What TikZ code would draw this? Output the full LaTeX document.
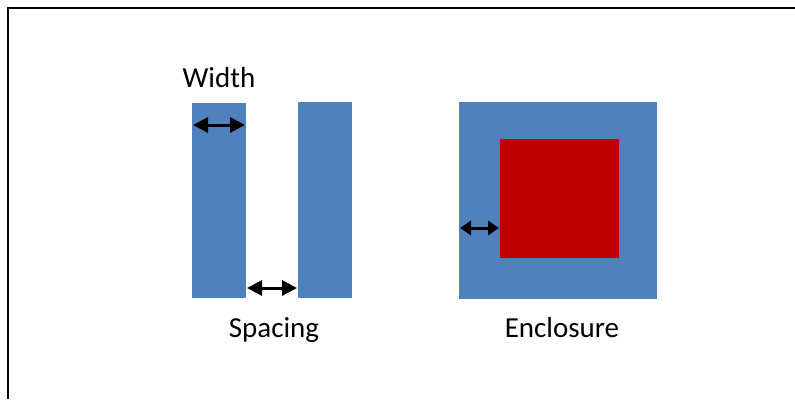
\documentclass[tikz,border=0pt]{standalone}
\usepackage{fontspec}
\setmainfont{Carlito}
\usetikzlibrary{arrows.meta}
\definecolor{barblue}{HTML}{4F81BD}
\definecolor{fillred}{HTML}{C00000}
\begin{document}
\begin{tikzpicture}[x=1pt,y=-1pt,
  blk/.style={fill=barblue,draw=none,inner sep=0pt,outer sep=0pt,anchor=north west},
  redblk/.style={fill=fillred,draw=none,inner sep=0pt,outer sep=0pt,anchor=north west},
  dimarrow/.style={line width=3pt,{Triangle[length=15pt 0,width=15pt 0]}-{Triangle[length=15pt 0,width=15pt 0]}},
  smallarrow/.style={line width=3pt,{Triangle[length=11pt 0,width=14pt 0]}-{Triangle[length=11pt 0,width=14pt 0]}},
  lbl/.style={font=\fontsize{29}{34}\selectfont,anchor=base,inner sep=0pt}]
\useasboundingbox (0,0) rectangle (795,399);
% frame
\coordinate (fbl) at (7.5,399);
\coordinate (ftl) at (7.5,7.5);
\coordinate (ftr) at (795,7.5);
\draw[line width=2pt] (fbl) -- (ftl) -- (ftr);
% bars
\node[blk,minimum width=54pt,minimum height=195pt] (bar1) at (192,103) {};
\node[blk,minimum width=54pt,minimum height=196pt] (bar2) at (298,102) {};
% enclosure
\node[blk,minimum width=198pt,minimum height=197pt] (outer) at (459,102) {};
\node[redblk,minimum width=119pt,minimum height=119pt] (inner) at (500,139) {};
% arrows
\coordinate (w1) at (193,125); \coordinate (w2) at (245,125);
\draw[dimarrow] (w1) -- (w2);
\coordinate (s1) at (247,288); \coordinate (s2) at (297,288);
\draw[dimarrow] (s1) -- (s2);
\coordinate (e1) at (460,228); \coordinate (e2) at (499,228);
\draw[smallarrow] (e1) -- (e2);
% labels
\node[lbl] (wlabel) at (219,87) {Width};
\node[lbl] (slabel) at (274,337) {Spacing};
\node[lbl] (elabel) at (562,337) {Enclosure};
\end{tikzpicture}
\end{document}
